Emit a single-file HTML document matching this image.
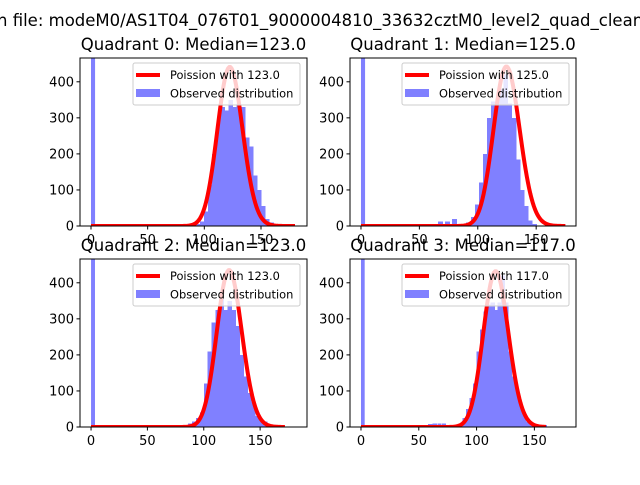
<!DOCTYPE html>
<html><head><meta charset="utf-8"><style>
body{margin:0;background:#fff;}
svg text{font-family:"DejaVu Sans","Liberation Sans",sans-serif;}
</style></head><body>
<svg id="fig" width="640" height="480" viewBox="0 0 640 480">
<rect width="640" height="480" fill="#fff"/>
<text x="-3" y="26" font-size="16.5">n file: modeM0/AS1T04_076T01_9000004810_33632cztM0_level2_quad_clean.evt</text>
</svg>
<script>
// ---- data ----
const quadTitles = ["Quadrant 0: Median=123.0","Quadrant 1: Median=125.0","Quadrant 2: Median=123.0","Quadrant 3: Median=117.0"];
const medians = [123.0, 125.0, 123.0, 117.0];
const peakHeights = [441, 442, 435, 432];
const curveEnds = [180, 175, 172, 160];
const binWidths = [3.6, 3.5, 3.5, 3.2];
const zeroBinCounts = [1000, 1000, 1000, 1000];
const q0BinStarts = [92.4,96,99.6,103.2,106.8,110.4,114,117.6,121.2,124.8,128.4,132,135.6,139.2,142.8,146.4,150,153.6,157.2];
const q0Counts = [5,12,40,115,200,280,330,320,350,330,340,330,245,220,140,100,55,20,10];
const q1BinStarts = [26,38,50,60,66,72,78,84,90,94,97.5,101,104.5,108,111.5,115,118.5,122,125.5,129,132.5,136,139.5,143,146.5];
const q1Counts = [3,3,3,5,12,12,20,5,10,25,60,120,200,300,345,345,380,420,340,300,185,100,55,15,5];
const q2BinStarts = [70,86,89.5,93,96.5,100,103.5,107,110.5,114,117.5,121,124.5,128,131.5,135,138.5,142,145.5,149,152.5,156];
const q2Counts = [5,10,15,25,40,120,210,290,325,355,325,350,325,280,200,140,95,70,30,20,15,5];
const q3BinStarts = [54,58,62,66,70,82,85,88,91,94,97,100,103,106,109,112,115,118,121,124,127,130,133,136,139,142,145,148,151,154,157];
const q3Counts = [5,8,10,10,10,5,10,25,50,80,120,210,270,320,340,345,325,345,420,345,210,140,100,70,35,15,10,5,3,3,5];
const binStarts = [q0BinStarts,q1BinStarts,q2BinStarts,q3BinStarts];
const binCounts = [q0Counts,q1Counts,q2Counts,q3Counts];
const yTicks = [0,100,200,300,400];
const xTicks = [0,50,100,150];
const xLims = [[-9.7,190.6],[-9.4,184.1],[-9.8,191.6],[-9.5,186]];
const yMax = 466;
// ---- layout ----
const boxes = [[80,58,307,226],[350,58,576,226],[80,259,307,427],[350,259,576,427]];
const NS = "http://www.w3.org/2000/svg";
const svg = document.getElementById('fig');
function mk(tag, attrs, parent){const e=document.createElementNS(NS,tag);for(const k in attrs)e.setAttribute(k,attrs[k]);(parent||svg).appendChild(e);return e;}
function lgamma(n){let s=0;for(let i=2;i<=n;i++)s+=Math.log(i);return s;}
for(let q=0;q<4;q++){
  const [L,T,R,B]=boxes[q];
  const [x0,x1]=xLims[q];
  const sx=v=>L+(v-x0)/(x1-x0)*(R-L);
  const sy=v=>B-v/yMax*(B-T);
  const g=mk('g',{});
  
  
  const cid='clip'+q;
  const cp=mk('clipPath',{id:cid},g); mk('rect',{x:L,y:T,width:R-L,height:B-T},cp);
  const plot=mk('g',{'clip-path':'url(#'+cid+')'},g);
  const zb=mk('rect',{x:sx(0),y:sy(zeroBinCounts[q]),width:sx(binWidths[q])-sx(0),height:sy(0)-sy(zeroBinCounts[q]),fill:'#8080ff'},plot);
  
  
  const bars=mk('g',{fill:'#8080ff','shape-rendering':'crispEdges'},plot);
  binStarts[q].forEach((s,i)=>{
    const c=binCounts[q][i];
    const r=mk('rect',{x:sx(s),y:sy(c),width:sx(s+binWidths[q])-sx(s)+0.6,height:sy(0)-sy(c)},bars);
    
    
  });
  const lam=medians[q];
  const peakLog=lam*Math.log(lam)-lam-lgamma(Math.round(lam));
  let d='';
  for(let k=0;k<=curveEnds[q];k++){
    const lp=k*Math.log(lam||1)-lam-lgamma(k);
    const v=peakHeights[q]*Math.exp(lp-peakLog);
    d+=(k?'L':'M')+sx(k).toFixed(2)+','+sy(v).toFixed(2);
  }
  const pl=mk('path',{d:d,fill:'none',stroke:'#ff0000','stroke-width':4,'stroke-linejoin':'round'},plot);
  
  
  const fr=mk('rect',{x:L,y:T,width:R-L,height:B-T,fill:'none',stroke:'#000','stroke-width':1},g);
  
  
  yTicks.forEach(t=>{
    const y=sy(t);
    mk('line',{x1:L-3.5,x2:L,y1:y,y2:y,stroke:'#000'},g);
    const tx=mk('text',{x:L-6,y:y+4.5,'font-size':13,'text-anchor':'end'},g);
    tx.textContent=t;
    
    
  });
  xTicks.forEach(t=>{
    const x=sx(t);
    mk('line',{x1:x,x2:x,y1:B,y2:B+3.5,stroke:'#000'},g);
    const tx=mk('text',{x:x,y:B+18,'font-size':13,'text-anchor':'middle'},g);
    tx.textContent=t;
    
    
  });
  const ti=mk('text',{x:(L+R)/2,y:T-8,'font-size':16.5,'text-anchor':'middle'},g);
  ti.textContent=quadTitles[q];
  
  
  const lg=mk('g',{},g);
  
  
  mk('rect',{x:R-174,y:T+5,width:167,height:42,rx:2,fill:'#fff','fill-opacity':0.8,stroke:'#ccc'},lg);
  mk('line',{x1:R-171,x2:R-147,y1:T+17,y2:T+17,stroke:'#ff0000','stroke-width':4},lg);
  mk('rect',{x:R-171,y:T+31,width:24,height:8,fill:'#8080ff'},lg);
  const t1=mk('text',{x:R-137,y:T+21,'font-size':11.4},lg);
  t1.textContent='Poission with '+medians[q].toFixed(1);
  
  
  const t2=mk('text',{x:R-137,y:T+39.5,'font-size':11.4},lg);
  t2.textContent='Observed distribution';
  
  
}
</script>
</body></html>
